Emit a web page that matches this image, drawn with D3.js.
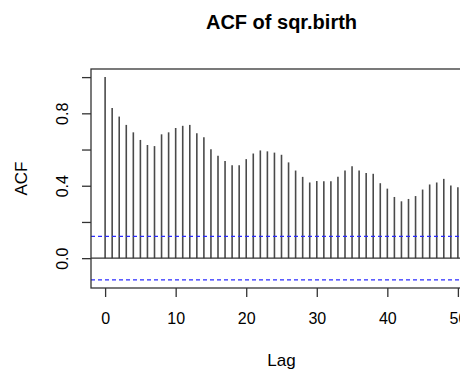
<!DOCTYPE html>
<html lang="en">
<head>
<meta charset="UTF-8">
<title>ACF of sqr.birth</title>
<script src="https://cdn.jsdelivr.net/npm/d3@7"></script>
<style>
    body { margin: 0; background: #fff; }
    text { font-family: "Liberation Sans", Arial, sans-serif; fill: #000; }
</style>
</head>
<body>
<svg id="chart" width="460" height="372"></svg>
<script>
    // lags and autocorrelations
    const lags = d3.range(0, 51);
    const acfValues = [
        1.000, 0.829, 0.782, 0.736, 0.695, 0.653, 0.625, 0.619, 0.684, 0.695,
        0.719, 0.731, 0.736, 0.690, 0.668, 0.602, 0.566, 0.536, 0.513, 0.513,
        0.547, 0.578, 0.595, 0.590, 0.583, 0.571, 0.529, 0.484, 0.449, 0.418,
        0.426, 0.425, 0.425, 0.449, 0.484, 0.507, 0.484, 0.471, 0.466, 0.414,
        0.384, 0.338, 0.314, 0.327, 0.343, 0.379, 0.407, 0.418, 0.438, 0.401,
        0.392
    ];
    const ciLevel = 0.12;
    const xTicks = [0, 10, 20, 30, 40, 50];
    const yTicks = [0, 0.2, 0.4, 0.6, 0.8, 1.0];
    const yLabels = [0, 0.4, 0.8];

    const svg = d3.select("#chart");
    const plotLeft = 91, plotRight = 472, plotTop = 69, plotBottom = 288;

    // R style 4% padding around data range
    const xMin = 0, xMax = 50;
    const xPad = (xMax - xMin) * 0.04;
    const yMin = -ciLevel, yMax = 1;
    const yPad = (yMax - yMin) * 0.04;

    const x = d3.scaleLinear().domain([xMin - xPad, xMax + xPad]).range([plotLeft, plotRight]);
    const y = d3.scaleLinear().domain([yMin - yPad, yMax + yPad]).range([plotBottom, plotTop]);

    // spikes
    svg.append("g")
        .selectAll("line")
        .data(lags)
        .join("line")
        .attr("x1", d => x(d)).attr("x2", d => x(d))
        .attr("y1", y(0)).attr("y2", d => y(acfValues[d]))
        .attr("stroke", "#4a4a4a")
        .attr("stroke-width", 1.6);

    // zero line
    svg.append("line")
        .attr("x1", plotLeft).attr("x2", plotRight)
        .attr("y1", y(0)).attr("y2", y(0))
        .attr("stroke", "#333").attr("stroke-width", 1.3);

    // confidence bounds
    svg.append("g")
        .selectAll("line")
        .data([ciLevel, -ciLevel])
        .join("line")
        .attr("x1", plotLeft).attr("x2", plotRight)
        .attr("y1", d => y(d)).attr("y2", d => y(d))
        .attr("stroke", "#2a2aff")
        .attr("stroke-width", 1.3)
        .attr("stroke-dasharray", "4,3");

    // box
    svg.append("rect")
        .attr("x", plotLeft).attr("y", plotTop)
        .attr("width", plotRight - plotLeft).attr("height", plotBottom - plotTop)
        .attr("fill", "none")
        .attr("stroke", "#333").attr("stroke-width", 1.3);

    // x axis
    const xAxis = d3.axisBottom(x).tickValues(xTicks).tickSize(9).tickPadding(16)
        .tickFormat(d3.format("d"));
    const gx = svg.append("g").attr("transform", `translate(0,${plotBottom})`).call(xAxis);
    gx.select(".domain").remove();
    gx.selectAll("line").attr("stroke", "#333").attr("stroke-width", 1.3);
    gx.selectAll("text").attr("font-size", 16).attr("font-family", "Liberation Sans, Arial, sans-serif");

    // y axis
    const yAxis = d3.axisLeft(y).tickValues(yTicks).tickSize(9)
        .tickFormat(d => yLabels.includes(d) ? d3.format(".1f")(d) : "");
    const gy = svg.append("g").attr("transform", `translate(${plotLeft},0)`).call(yAxis);
    gy.select(".domain").remove();
    gy.selectAll("line").attr("stroke", "#333").attr("stroke-width", 1.3);
    gy.selectAll("text")
        .attr("font-size", 16)
        .attr("font-family", "Liberation Sans, Arial, sans-serif")
        .attr("x", null).attr("dy", null)
        .attr("text-anchor", "middle")
        .attr("transform", "translate(-23,0) rotate(-90)");

    // titles
    const midX = (plotLeft + plotRight) / 2;
    svg.append("text")
        .attr("x", midX).attr("y", 29)
        .attr("text-anchor", "middle")
        .attr("font-size", 20).attr("font-weight", "bold")
        .text("ACF of sqr.birth");

    svg.append("text")
        .attr("x", midX).attr("y", 366)
        .attr("text-anchor", "middle")
        .attr("font-size", 17)
        .text("Lag");

    svg.append("text")
        .attr("transform", `translate(27,${(plotTop + plotBottom) / 2}) rotate(-90)`)
        .attr("text-anchor", "middle")
        .attr("font-size", 17)
        .text("ACF");
</script>
</body>
</html>
